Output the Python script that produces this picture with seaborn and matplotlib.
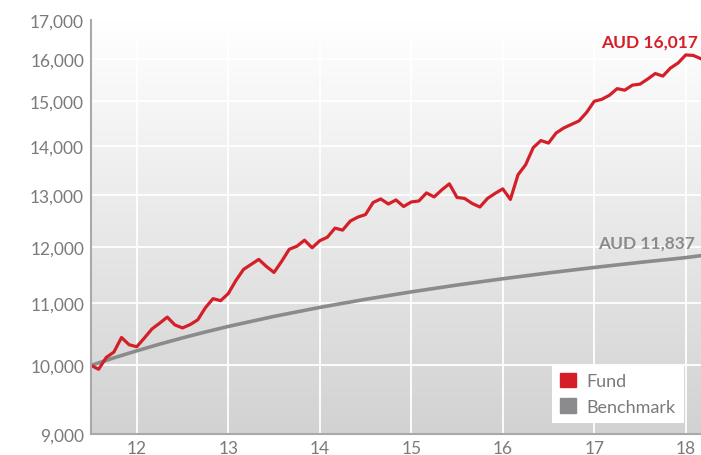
import numpy as np
import pandas as pd
import seaborn as sns
import matplotlib.pyplot as plt
from matplotlib.patches import Patch
from matplotlib.colors import LinearSegmentedColormap
from matplotlib.ticker import FixedLocator, NullLocator, FuncFormatter

sns.set_theme(style='white')
plt.rcParams['font.family'] = ['Lato', 'DejaVu Sans']

# Growth of AUD 10,000, month-end values from mid 2011
fund = [10000, 9941, 10123, 10207, 10438, 10323, 10291, 10430, 10577, 10670,
        10770, 10642, 10593, 10647, 10725, 10926, 11080, 11046, 11166, 11393,
        11589, 11679, 11769, 11642, 11535, 11733, 11953, 12009, 12121, 11981,
        12111, 12177, 12348, 12310, 12482, 12559, 12608, 12844, 12914, 12814,
        12894, 12765, 12854, 12874, 13034, 12954, 13095, 13217, 12944, 12924,
        12824, 12755, 12924, 13025, 13116, 12904, 13402, 13611, 13974, 14126,
        14072, 14291, 14402, 14480, 14559, 14751, 15005, 15051, 15145, 15298,
        15263, 15381, 15405, 15525, 15658, 15597, 15791, 15914, 16112, 16099,
        16017]
start_year = 11.5

bench_years = [11.5, 11.75, 12, 12.25, 12.5, 12.75, 13, 13.5, 14, 14.5, 15,
               15.5, 16, 16.5, 17, 17.5, 18, 18 + 2 / 12]
bench = [10000, 10117, 10227, 10332, 10432, 10527, 10617, 10782, 10932,
         11069, 11196, 11314, 11424, 11527, 11624, 11715, 11801, 11837]

year_ticks = [12, 13, 14, 15, 16, 17, 18]
value_ticks = [9000, 10000, 11000, 12000, 13000, 14000, 15000, 16000, 17000]

RED = '#d51f28'
GRAY = '#8b8b8d'
TEXT = '#7a7a7a'

months = start_year + np.arange(len(fund)) / 12
df_fund = pd.DataFrame({'year': months, 'value': fund})
df_bench = pd.DataFrame({'year': bench_years, 'value': bench})

fig = plt.figure(figsize=(7.01, 4.56), dpi=100)
pos = [91 / 701, 21 / 456, 610 / 701, 414 / 456]

# gradient background behind the plot area
bg = fig.add_axes(pos, zorder=0)
grad = np.linspace(0, 1, 256).reshape(-1, 1)
cmap = LinearSegmentedColormap.from_list('bg', ['#ffffff', '#d2d2d2'])
bg.imshow(grad, aspect='auto', cmap=cmap, extent=[0, 1, 0, 1], origin='upper')
bg.axis('off')

ax = fig.add_axes(pos, zorder=1)
ax.set_facecolor('none')
sns.lineplot(data=df_bench, x='year', y='value', color=GRAY, lw=2.6, ax=ax)
sns.lineplot(data=df_fund, x='year', y='value', color=RED, lw=2.3, ax=ax)

ax.set_yscale('log')
ax.set_ylim(value_ticks[0], value_ticks[-1])
ax.set_xlim(start_year, months[-1])
ax.yaxis.set_major_locator(FixedLocator(value_ticks))
ax.yaxis.set_minor_locator(NullLocator())
ax.yaxis.set_major_formatter(FuncFormatter(lambda v, p: f'{int(v):,}'))
ax.set_xticks(year_ticks)
ax.set_xticklabels([str(y) for y in year_ticks])
ax.set_xlabel('')
ax.set_ylabel('')

ax.grid(True, color='white', lw=1.3)
ax.set_axisbelow(True)
for s in ['top', 'right']:
    ax.spines[s].set_visible(False)
for s in ['left', 'bottom']:
    ax.spines[s].set_color('#a9a9a9')
    ax.spines[s].set_linewidth(1.5)
ax.tick_params(axis='both', length=0, labelsize=12.5, labelcolor=TEXT)
ax.tick_params(axis='y', pad=5)
ax.tick_params(axis='x', pad=4)

# end value labels
ax.annotate(f'AUD {fund[-1]:,}', xy=(months[-1], fund[-1]), xytext=(-2, 7),
            textcoords='offset points', ha='right', va='bottom',
            color=RED, fontsize=12.5, fontweight='bold')
ax.annotate(f'AUD {bench[-1]:,}', xy=(bench_years[-1], bench[-1]),
            xytext=(-4, 4), textcoords='offset points', ha='right',
            va='bottom', color=GRAY, fontsize=12.5, fontweight='bold')

handles = [Patch(color=RED, label='Fund'), Patch(color=GRAY, label='Benchmark')]
leg = ax.legend(handles=handles, loc='lower right',
                bbox_to_anchor=(0.972, 0.027), borderaxespad=0,
                frameon=True, fancybox=False, framealpha=1,
                facecolor='white', edgecolor='none', fontsize=13,
                handlelength=0.85, handleheight=0.85, handletextpad=0.6,
                labelspacing=0.5, borderpad=0.45)
for t in leg.get_texts():
    t.set_color(TEXT)

fig.savefig('out.png', dpi=100)
